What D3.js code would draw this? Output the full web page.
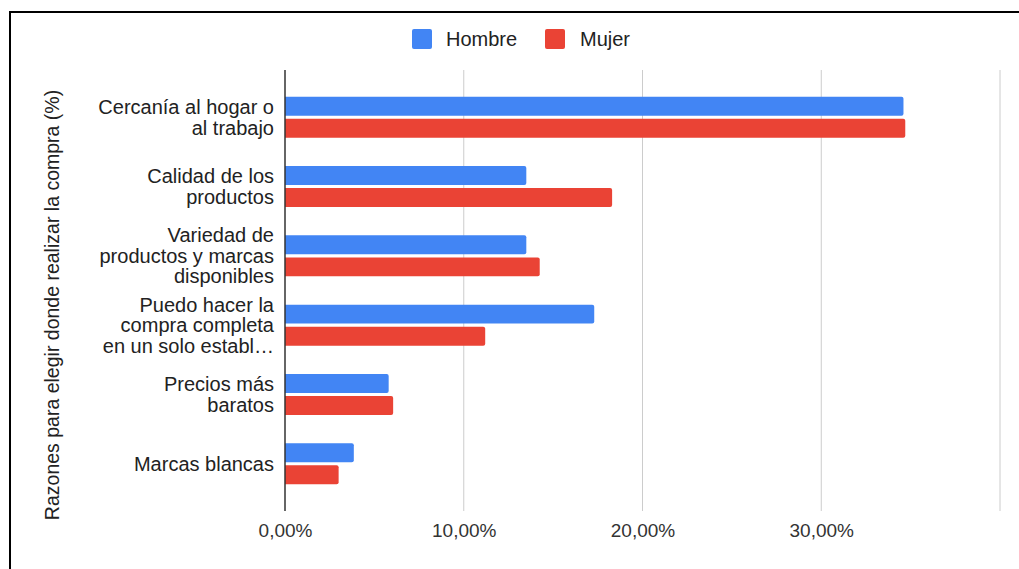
<!DOCTYPE html>
<html><head><meta charset="utf-8">
<script src="https://cdn.jsdelivr.net/npm/d3@7"></script>
<style>
html,body{margin:0;padding:0;background:#fff;}
svg{display:block;font-family:Arial,"Liberation Sans",sans-serif;}
</style></head>
<body>
<svg id="chart" width="1019" height="569"></svg>
<script>
const categories = [
  ["Cercanía al hogar o","al trabajo"],
  ["Calidad de los","productos"],
  ["Variedad de","productos y marcas","disponibles"],
  ["Puedo hacer la","compra completa","en un solo establ…"],
  ["Precios más","baratos"],
  ["Marcas blancas"]
];
const seriesNames = ["Hombre","Mujer"];
const hombre = [34.6, 13.5, 13.5, 17.3, 5.8, 3.85];
const mujer  = [34.7, 18.3, 14.25, 11.2, 6.05, 3.0];
const xTicks = [0, 10, 20, 30, 40];
const colors = ["#4285F4", "#EA4335"];
const yTitle = "Razones para elegir donde realizar la compra (%)";

const svg = d3.select("#chart");
// frame
svg.append("path").attr("d","M10,569 V12 H1019").attr("fill","none").attr("stroke","#000").attr("stroke-width",2);

const x = d3.scaleLinear().domain([0,40]).range([285,1000]);
const keys = categories.map((c,i)=>i);
const y = d3.scaleBand().domain(keys).range([70,511]).paddingInner(0.408).paddingOuter(0.386);
const ys = d3.scaleBand().domain([0,1]).range([0,y.bandwidth()]).paddingInner(0.14);

// gridlines
svg.append("g").selectAll("line").data(xTicks.slice(1)).join("line")
  .attr("x1",d=>x(d)).attr("x2",d=>x(d)).attr("y1",70).attr("y2",511)
  .attr("stroke","#cccccc").attr("stroke-width",1);

// bars
const data = [hombre, mujer];
const g = svg.append("g");
categories.forEach((c,i)=>{
  data.forEach((s,j)=>{
    const w = x(s[i]) - x(0);
    const by = y(i) + ys(j);
    const h = ys.bandwidth();
    const r = 2;
    g.append("path")
      .attr("d",`M${x(0)},${by} H${x(0)+w-r} Q${x(0)+w},${by} ${x(0)+w},${by+r} V${by+h-r} Q${x(0)+w},${by+h} ${x(0)+w-r},${by+h} H${x(0)} Z`)
      .attr("fill",colors[j]);
  });
});

// zero axis line
svg.append("line").attr("x1",x(0)).attr("x2",x(0)).attr("y1",70).attr("y2",511)
  .attr("stroke","#333").attr("stroke-width",1.5);

// x tick labels (axis)
const xAxis = d3.axisBottom(x).tickValues(xTicks.slice(0,4))
  .tickFormat(d=>d3.format(".2f")(d).replace(".",",")+"%").tickSize(0).tickPadding(0);
const ax = svg.append("g").attr("transform","translate(0,523)").call(xAxis);
ax.select(".domain").remove();
ax.selectAll("text").attr("font-size",19).attr("fill","#333").attr("font-family","Arial,'Liberation Sans',sans-serif").attr("dy","0.71em");

// category labels
const lh = 20.5;
categories.forEach((lines,i)=>{
  const cy = y(i) + y.bandwidth()/2;
  const t = svg.append("text").attr("text-anchor","end").attr("font-size",20).attr("fill","#222");
  lines.forEach((ln,k)=>{
    t.append("tspan").attr("x",274).attr("y", cy + (k - (lines.length-1)/2)*lh + 7).text(ln);
  });
});

// y title
svg.append("text").attr("transform","translate(59,305) rotate(-90)")
  .attr("text-anchor","middle").attr("font-size",19.5).attr("fill","#222").text(yTitle);

// legend
const leg = [{x:412, tx:446}, {x:545, tx:580}];
seriesNames.forEach((n,j)=>{
  svg.append("rect").attr("x",leg[j].x).attr("y",29).attr("width",20).attr("height",20).attr("rx",2).attr("fill",colors[j]);
  svg.append("text").attr("x",leg[j].tx).attr("y",46).attr("font-size",20).attr("fill","#222").text(n);
});
</script>
</body></html>
